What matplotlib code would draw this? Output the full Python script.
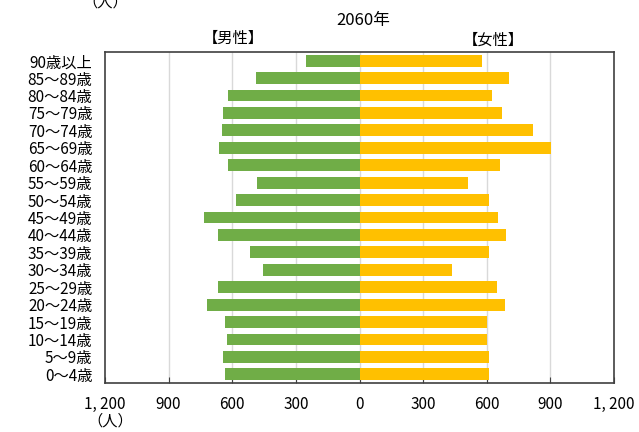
import matplotlib.pyplot as plt
import numpy as np

plt.rcParams['font.family'] = ['Noto Sans CJK JP', 'DejaVu Sans']

# 年齢階級（上から順）
age_groups = ['90歳以上', '85～89歳', '80～84歳', '75～79歳', '70～74歳',
              '65～69歳', '60～64歳', '55～59歳', '50～54歳', '45～49歳',
              '40～44歳', '35～39歳', '30～34歳', '25～29歳', '20～24歳',
              '15～19歳', '10～14歳', '5～9歳', '0～4歳']
male = [250, 488, 622, 642, 649, 661, 619, 485, 581, 732,
        668, 515, 453, 668, 720, 636, 624, 642, 636]
female = [578, 706, 624, 673, 818, 903, 663, 510, 611, 655,
          692, 611, 437, 650, 684, 601, 600, 611, 611]
xticks = [-1200, -900, -600, -300, 0, 300, 600, 900, 1200]
xtick_labels = ['1, 200', '900', '600', '300', '0', '300', '600', '900', '1, 200']

fig = plt.figure(figsize=(6.39, 4.32), dpi=100)
ax = fig.add_axes([0.1643, 0.1134, 0.7966, 0.7662])

y = np.arange(len(age_groups))
ax.barh(y, -np.array(male), height=0.68, color='#70AD47', zorder=3)
ax.barh(y, female, height=0.68, color='#FFC000', zorder=3)

ax.set_xlim(-1200, 1200)
ax.set_ylim(len(age_groups) - 0.5, -0.5)
ax.set_yticks(y)
ax.set_yticklabels(age_groups, fontsize=11)
ax.set_xticks(xticks)
ax.set_xticklabels(xtick_labels, fontsize=11)
ax.tick_params(axis='y', length=0, pad=9)
ax.tick_params(axis='x', direction='in', length=4, pad=9, color='#404040')

for v in xticks[1:-1]:
    ax.axvline(v, color='#D9D9D9', lw=1, zorder=1)
for s in ax.spines.values():
    s.set_color('#404040')
    s.set_linewidth(1.2)

fig.text(0.568, 0.952, '2060年', fontsize=12, ha='center', va='center')
fig.text(0.365, 0.912, '【男性】', fontsize=11, ha='center', va='center')
fig.text(0.772, 0.907, '【女性】', fontsize=11, ha='center', va='center')
fig.text(0.172, 0.025, '（人）', fontsize=11, ha='center', va='center')
fig.text(0.165, 0.995, '（人）', fontsize=11, ha='center', va='center')

fig.savefig('out.png', dpi=100)
